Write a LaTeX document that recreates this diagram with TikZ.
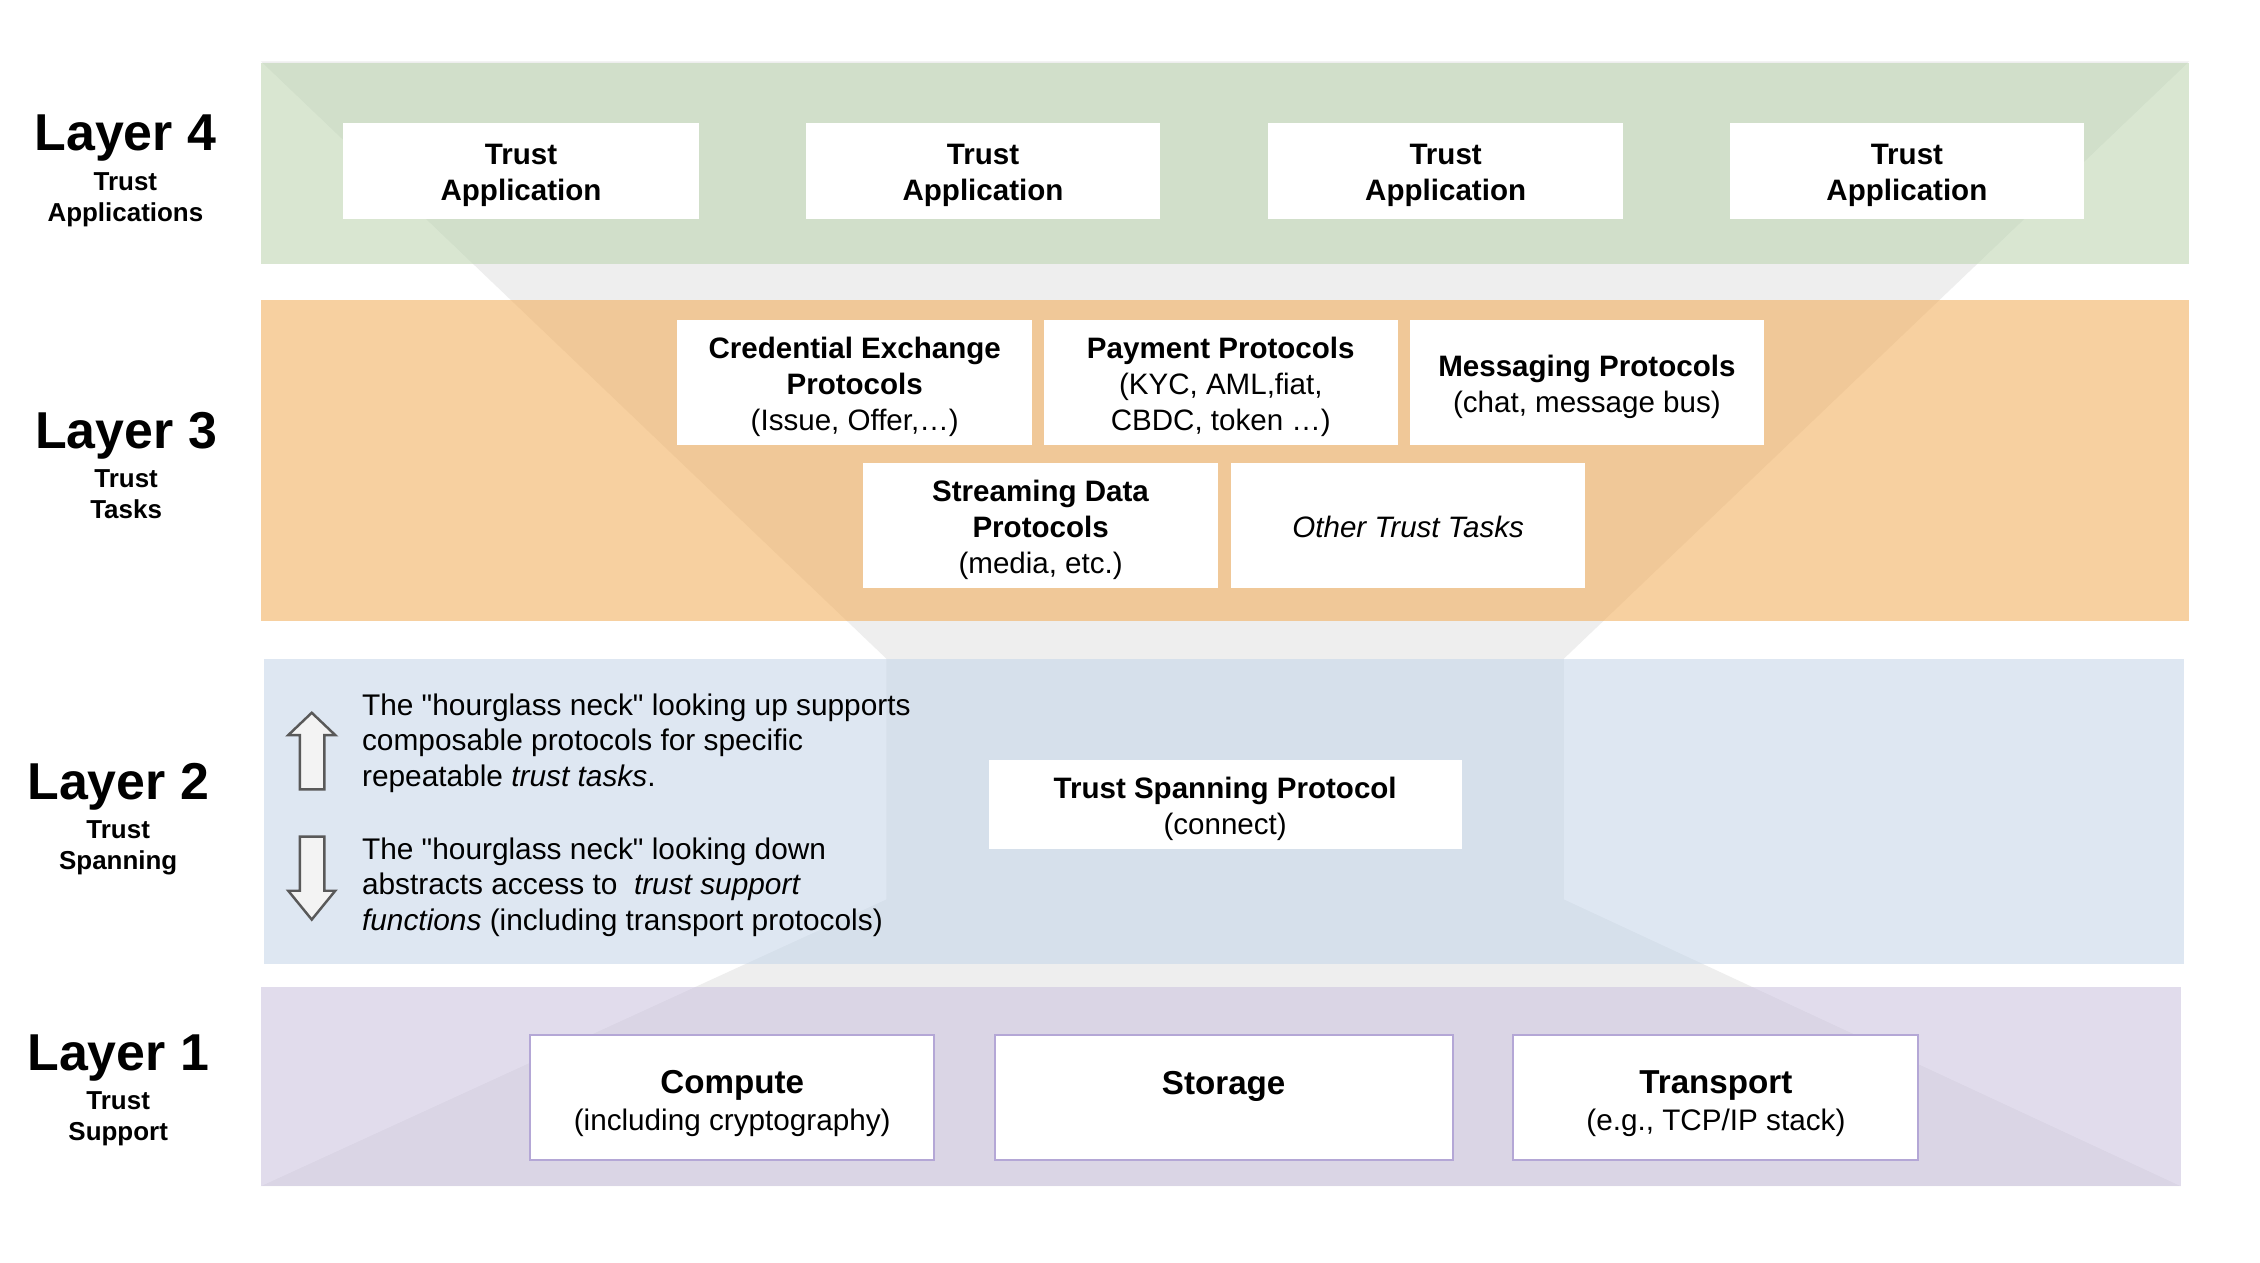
\documentclass[tikz,border=0pt]{standalone}
\usepackage{fontspec}
\setmainfont{Liberation Sans}[Ligatures=TeXOff]
\definecolor{hgrey}{RGB}{238,238,238}
\definecolor{bgreen}{RGB}{186,211,173}
\definecolor{borange}{RGB}{242,170,82}
\definecolor{bblue}{RGB}{196,213,233}
\definecolor{bpurple}{RGB}{202,193,222}
\definecolor{pedge}{RGB}{180,167,214}
\definecolor{arrowedge}{RGB}{89,89,89}
\definecolor{arrowfill}{RGB}{243,243,243}
\newcommand\setmystrut[2]{\setbox\strutbox\hbox{\vrule height #1pt depth #2pt width 0pt}\lineskiplimit=-100pt\relax}
\tikzset{
  band/.style={fill opacity=0.55, draw=none},
  wbox/.style={fill=white, draw=none, inner sep=0pt, align=center,
    font=\fontsize{20.5}{25}\selectfont\setmystrut{21}{4}},
  pbox/.style={fill=white, draw=pedge, line width=1.4pt, inner sep=0pt, align=center,
    font=\fontsize{20.6}{26}\selectfont\setmystrut{24.2}{1.8}},
  layerlbl/.style={inner sep=0pt, font=\fontsize{36}{40}\selectfont\bfseries},
  sublbl/.style={inner sep=0pt, align=center, font=\fontsize{18}{21.5}\selectfont\bfseries},
  bodytxt/.style={inner sep=0pt, align=left, anchor=west,
    font=\fontsize{20.7}{24.6}\selectfont\setmystrut{19.2}{5.4}},
  blockarrow/.style={draw=arrowedge, fill=arrowfill, line width=1.7pt, line join=miter}
}
\begin{document}
\begin{tikzpicture}[x=1pt,y=-1pt]
\useasboundingbox (0,0) rectangle (1568,876);
\fill[white] (0,0) rectangle (1568,876);
% hourglass
\fill[hgrey] (181,42.5) -- (1519,42.5) -- (1085,457) -- (1085,624) -- (1513,823)
  -- (181,823) -- (615,624) -- (615,457) -- cycle;
% bands
\fill[band, bgreen] (181,44) rectangle (1519,183);
\fill[band, borange] (181,208) rectangle (1519,431);
\fill[band, bblue] (183,457) rectangle (1515,669);
\fill[band, bpurple] (181,685) rectangle (1513,823);
% layer labels
\node[layerlbl] (l4) at (87,96) {Layer 4};
\node[sublbl] (l4s) at (87,138.5) {Trust\\Applications};
\node[layerlbl] (l3) at (87.5,302) {Layer 3};
\node[sublbl] (l3s) at (87.5,343) {Trust\\Tasks};
\node[layerlbl] (l2) at (82,546) {Layer 2};
\node[sublbl] (l2s) at (82,588) {Trust\\Spanning};
\node[layerlbl] (l1) at (82,734) {Layer 1};
\node[sublbl] (l1s) at (82,776) {Trust\\Support};
% layer 4 boxes
\foreach \n/\x/\w in {ta1/361.5/247, ta2/682/246, ta3/1003/246, ta4/1323/246}
  \node[wbox, minimum width=\w pt, minimum height=67pt] (\n) at (\x,118.5)
    {\textbf{Trust}\strut\\\textbf{Application}\strut};
% layer 3 boxes
\node[wbox, minimum width=246pt, minimum height=87pt] (cred) at (593,265.5)
  {\textbf{Credential Exchange}\strut\\\textbf{Protocols}\strut\\(Issue, Offer,…)\strut};
\node[wbox, minimum width=246pt, minimum height=87pt] (pay) at (847,265.5)
  {\textbf{Payment Protocols}\strut\\(KYC, AML,fiat,\strut\\CBDC, token …)\strut};
\node[wbox, minimum width=246pt, minimum height=87pt] (msg) at (1101,265.5)
  {\textbf{Messaging Protocols}\strut\\(chat, message bus)\strut};
\node[wbox, minimum width=246pt, minimum height=87pt] (stream) at (722,364.5)
  {\textbf{Streaming Data}\strut\\\textbf{Protocols}\strut\\(media, etc.)\strut};
\node[wbox, minimum width=246pt, minimum height=87pt] (other) at (977,364.5)
  {\textit{Other Trust Tasks}\strut};
% layer 2
\node[wbox, minimum width=328pt, minimum height=62pt] (tsp) at (850,558)
  {\textbf{Trust Spanning Protocol}\strut\\(connect)\strut};
\draw[blockarrow] (216.3,494.5) -- (232.6,510) -- (225,510) -- (225,547.6)
  -- (208,547.6) -- (208,510) -- (200,510) -- cycle;
\draw[blockarrow] (208,580.5) -- (225,580.5) -- (225,618) -- (232.6,618)
  -- (216.3,638) -- (200,618) -- (208,618) -- cycle;
\node[bodytxt] (up) at (251,514)
  {The "hourglass neck" looking up supports\strut\\composable protocols for specific\strut\\repeatable \textit{trust tasks}.\strut};
\node[bodytxt] (down) at (251,614)
  {The "hourglass neck" looking down\strut\\abstracts access to\ \ \textit{trust support}\strut\\\textit{functions} (including transport protocols)\strut};
% layer 1 boxes
\node[pbox, minimum width=280pt, minimum height=87pt] (compute) at (508,761.5)
  {{\fontsize{23}{26}\selectfont\bfseries Compute}\strut\\(including cryptography)\strut};
\node[pbox, minimum width=318pt, minimum height=87pt] (storage) at (849,761.5)
  {{\fontsize{23}{26}\selectfont\bfseries Storage}\strut\\\strut};
\node[pbox, minimum width=281pt, minimum height=87pt] (transport) at (1190.5,761.5)
  {{\fontsize{23}{26}\selectfont\bfseries Transport}\strut\\(e.g., TCP/IP stack)\strut};
\end{tikzpicture}
\end{document}
